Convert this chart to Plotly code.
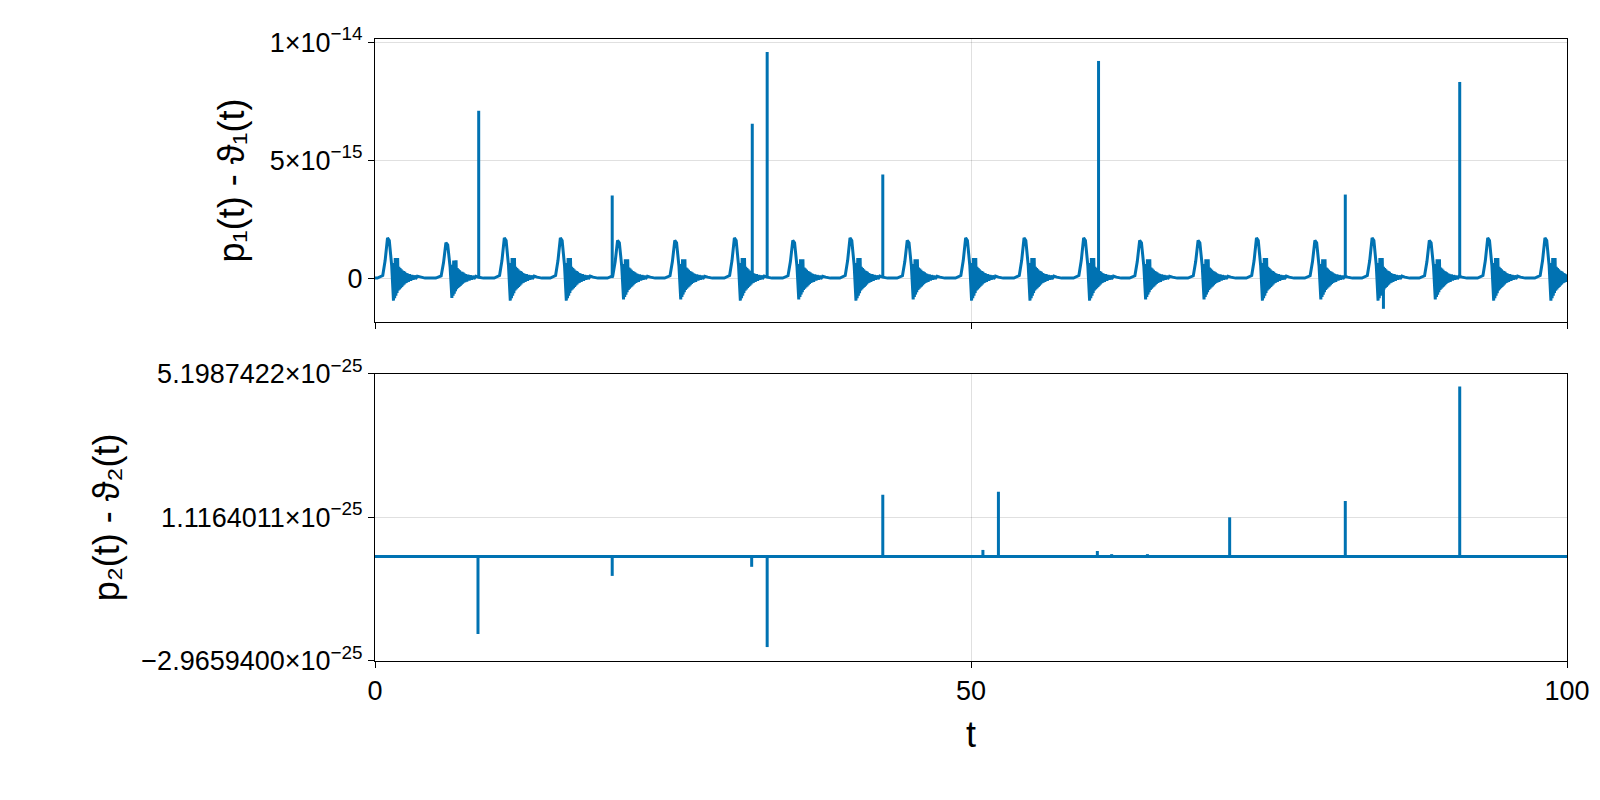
import plotly.graph_objects as go
from plotly.subplots import make_subplots

# top panel: periodic bumps (centre t, peak height in 1e-15)
bump_t = [1.1, 6.0, 10.9, 15.6, 20.4, 25.2, 30.2, 35.1, 39.9, 44.7, 49.6,
          54.5, 59.5, 64.2, 69.1, 74.0, 78.9, 83.7, 88.5, 93.4, 98.2]
bump_peak = [1.7, 1.5, 1.7, 1.7, 1.6, 1.6, 1.7, 1.6, 1.7, 1.6, 1.7,
             1.7, 1.7, 1.6, 1.6, 1.7, 1.6, 1.7, 1.6, 1.7, 1.7]
# shape of one bump: (offset in t, value in 1e-15 for peak 1.6)
bump_shape = [(-0.9, 0.0), (-0.45, 0.1), (-0.25, 0.7), (-0.05, 1.6), (0.1, 1.5),
              (0.3, 0.5), (0.45, -0.9), (0.5, 0.6), (0.55, -0.8), (0.6, 0.8),
              (0.65, -0.7), (0.7, 0.5), (0.75, -0.6), (0.8, 0.8), (0.85, -0.5),
              (0.9, 0.45), (0.95, -0.45), (1.0, 0.4), (1.05, -0.4), (1.1, 0.35),
              (1.15, -0.35), (1.2, 0.3), (1.25, -0.3), (1.3, 0.28), (1.35, -0.25),
              (1.4, 0.25), (1.45, -0.2), (1.5, 0.2), (1.55, -0.18), (1.6, 0.18),
              (1.7, -0.15), (1.8, 0.15), (1.9, -0.1), (2.0, 0.12), (2.1, -0.06),
              (2.2, 0.1), (2.3, -0.03), (2.45, 0.08), (2.7, 0.04), (3.1, 0.0)]
# isolated spikes in the top panel (t, value in 1e-15)
top_spike_t = [8.7, 19.9, 31.65, 32.9, 42.6, 60.7, 81.4, 84.6, 91.0]
top_spike_v = [7.09, 3.5, 6.54, 9.58, 4.39, 9.2, 3.54, -1.3, 8.31]

# bottom panel spikes (t, value in 1e-25)
bot_spike_t = [8.64, 19.9, 31.6, 32.9, 42.6, 51.0, 52.3, 60.6, 61.8, 64.8, 71.7, 81.4, 91.0]
bot_spike_v = [-2.198, -0.548, -0.29, -2.57, 1.757, 0.19, 1.84, 0.16, 0.07, 0.07, 1.116, 1.58, 4.83]

color = "#0072B2"

xs, ys = [0.0], [0.0]
for c, p in zip(bump_t, bump_peak):
    for dt, v in bump_shape:
        t = c + dt
        if 0 <= t <= 100:
            xs.append(t)
            ys.append(v * p / 1.6 * 1e-15)
xs.append(100.0)
ys.append(0.0)

sx, sy = [], []
for t, v in zip(top_spike_t, top_spike_v):
    sx += [t, t, None]
    sy += [0, v * 1e-15, None]

bx, by = [0, 100, None], [0, 0, None]
for t, v in zip(bot_spike_t, bot_spike_v):
    bx += [t, t, None]
    by += [0, v * 1e-25, None]

fig = make_subplots(rows=2, cols=1, shared_xaxes=True)
fig.add_trace(go.Scatter(x=xs, y=ys, mode="lines", line=dict(color=color, width=3)), row=1, col=1)
fig.add_trace(go.Scatter(x=sx, y=sy, mode="lines", line=dict(color=color, width=3)), row=1, col=1)
fig.add_trace(go.Scatter(x=bx, y=by, mode="lines", line=dict(color=color, width=3)), row=2, col=1)

axis_style = dict(showline=True, linecolor="black", linewidth=1, mirror=True,
                  ticks="outside", ticklen=6, tickcolor="black",
                  gridcolor="rgba(0,0,0,0.12)", zeroline=False,
                  tickfont=dict(size=27, color="black"))

fig.update_xaxes(range=[0, 100], tickvals=[0, 50, 100], **axis_style)
fig.update_xaxes(showticklabels=False, row=1, col=1)
fig.update_xaxes(title=dict(text="t", font=dict(size=36), standoff=16), row=2, col=1)

fig.update_yaxes(range=[-1.86e-15, 10.13e-15], tickvals=[0, 5e-15, 1e-14],
                 ticktext=["0", "5×10<sup>−15</sup>", "1×10<sup>−14</sup>"],
                 title=dict(text="p₁(t) - ϑ₁(t)", font=dict(size=36), standoff=14),
                 row=1, col=1, **axis_style)
fig.update_yaxes(range=[-2.96594e-25, 5.1987422e-25],
                 tickvals=[-2.96594e-25, 1.1164011e-25, 5.1987422e-25],
                 ticktext=["−2.9659400×10<sup>−25</sup>", "1.1164011×10<sup>−25</sup>",
                           "5.1987422×10<sup>−25</sup>"],
                 title=dict(text="p₂(t) - ϑ₂(t)", font=dict(size=36), standoff=10),
                 row=2, col=1, **axis_style)

fig.update_layout(
    width=1600, height=800, showlegend=False,
    plot_bgcolor="white", paper_bgcolor="white",
    font=dict(family="Liberation Sans, Arial, sans-serif", color="black"),
    margin=dict(l=367, r=41, t=17, b=147),
    yaxis=dict(domain=[0.545, 1.0]),
    yaxis2=dict(domain=[0.0, 0.462]),
)

fig.write_html("out.html")
